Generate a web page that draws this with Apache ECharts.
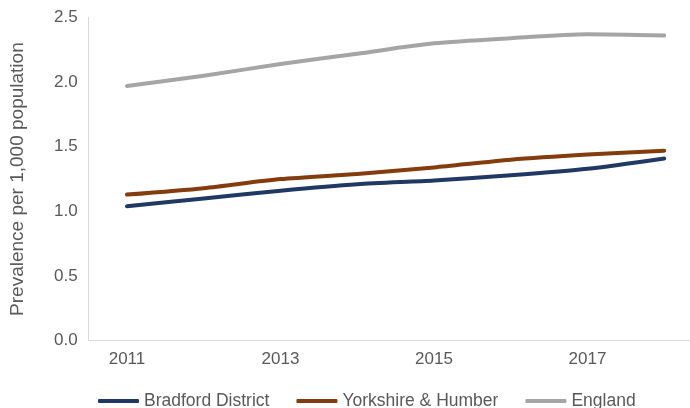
<!DOCTYPE html>
<html>
<head>
<meta charset="utf-8">
<script src="https://cdn.jsdelivr.net/npm/echarts@6/dist/echarts.min.js"></script>
<style>
  html, body { margin: 0; padding: 0; background: #fff; }
  #chart { width: 690px; height: 408px; }
</style>
</head>
<body>
<div id="chart"></div>
<script>
// Prevalence per 1,000 population, 2011-2018
const years = ['2011', '2012', '2013', '2014', '2015', '2016', '2017', '2018'];
const bradford = [1.04, 1.10, 1.16, 1.21, 1.24, 1.28, 1.33, 1.41];
const yorkshire = [1.13, 1.18, 1.25, 1.29, 1.34, 1.40, 1.44, 1.47];
const england = [1.97, 2.05, 2.14, 2.22, 2.30, 2.34, 2.37, 2.36];
const yTicks = [0, 0.5, 1.0, 1.5, 2.0, 2.5];

const font = 'Liberation Sans, Arial, sans-serif';
const textColor = '#595959';

const chart = echarts.init(document.getElementById('chart'), null, { renderer: 'canvas' });

function lineSeries(name, data, color) {
  return {
    name: name,
    type: 'line',
    data: data,
    smooth: 0.25,
    symbol: 'none',
    lineStyle: { width: 4, color: color, cap: 'round', join: 'round' },
    itemStyle: { color: color }
  };
}

chart.setOption({
  animation: false,
  backgroundColor: '#ffffff',
  // the plot area runs a little past the right edge of the canvas
  grid: { left: 88.6, top: 17.5, right: -12.6, height: 323.2, outerBoundsMode: 'none', containLabel: false },
  legend: {
    left: 93,
    top: 387,
    itemWidth: 41,
    itemHeight: 4,
    itemGap: 27,
    icon: 'roundRect',
    textStyle: { color: textColor, fontSize: 17.5, fontFamily: font },
    data: ['Bradford District', 'Yorkshire & Humber', 'England']
  },
  xAxis: {
    type: 'category',
    data: years,
    boundaryGap: true,
    axisLine: { show: true, lineStyle: { color: '#D9D9D9', width: 1 } },
    axisTick: { show: false },
    axisLabel: {
      interval: 1,
      color: textColor,
      fontSize: 17,
      fontFamily: font,
      margin: 10
    },
    splitLine: { show: false }
  },
  yAxis: {
    type: 'value',
    min: yTicks[0],
    max: yTicks[yTicks.length - 1],
    interval: 0.5,
    name: 'Prevalence per 1,000 population',
    nameLocation: 'middle',
    nameGap: 61,
    nameTextStyle: { color: textColor, fontSize: 19, fontFamily: font },
    axisLine: { show: true, lineStyle: { color: '#D9D9D9', width: 1 } },
    axisTick: { show: false },
    splitLine: { show: false },
    axisLabel: {
      color: textColor,
      fontSize: 17,
      fontFamily: font,
      margin: 11,
      formatter: v => v.toFixed(1)
    }
  },
  series: [
    lineSeries('Bradford District', bradford, '#203864'),
    lineSeries('Yorkshire & Humber', yorkshire, '#843C0C'),
    lineSeries('England', england, '#A5A5A5')
  ]
});
</script>
</body>
</html>
